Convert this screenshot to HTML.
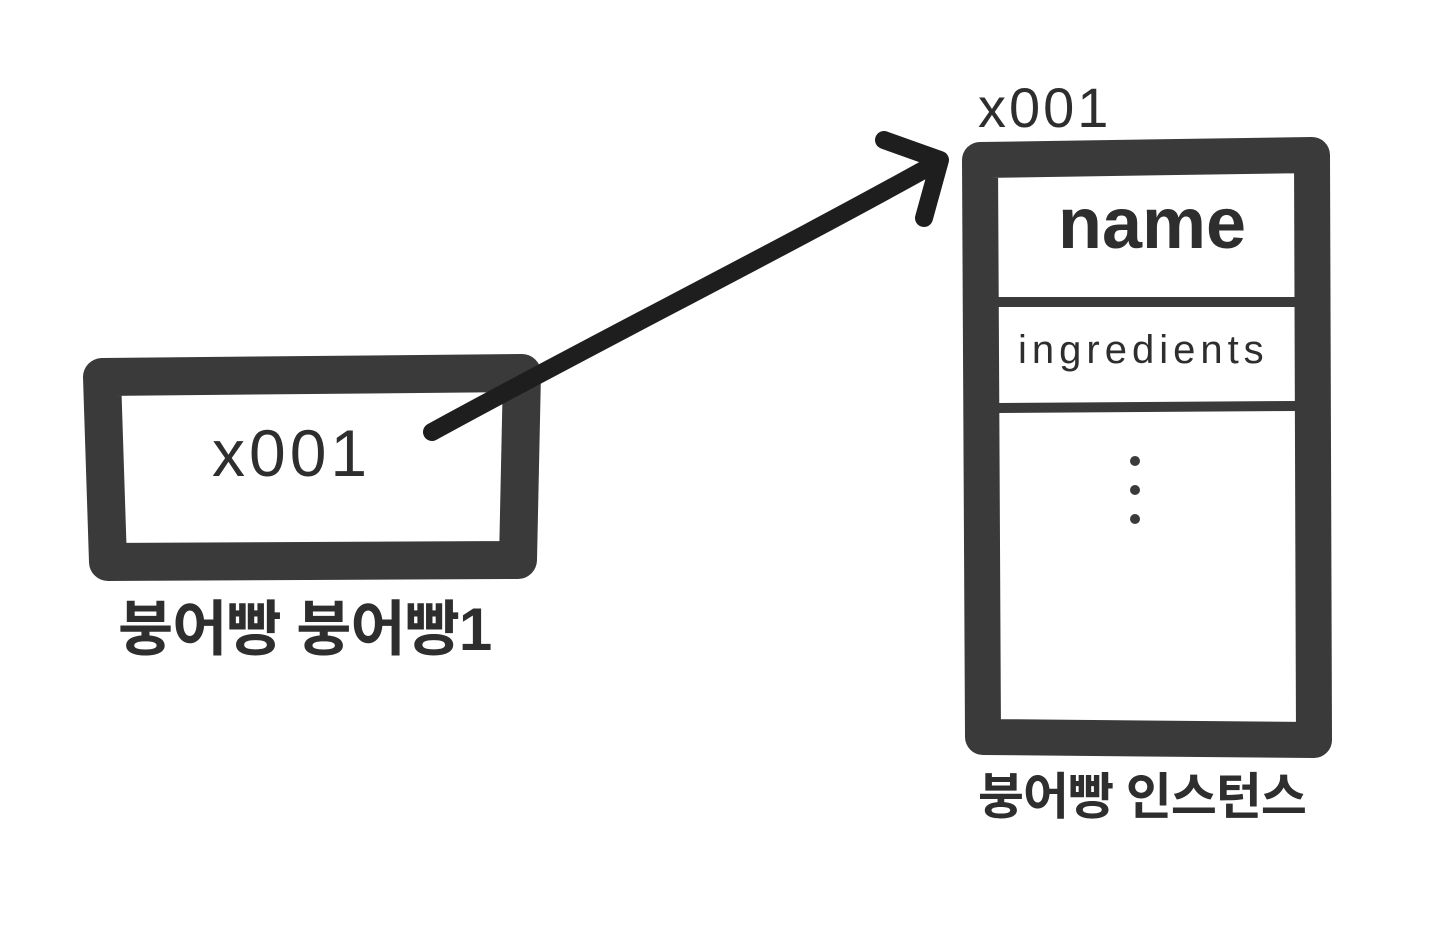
<!DOCTYPE html>
<html><head><meta charset="utf-8"><style>
html,body{margin:0;padding:0;background:#fff;}
body{width:1440px;height:937px;position:relative;overflow:hidden;}
.t{position:absolute;color:#2e2e2e;font-family:"Liberation Sans","Noto Sans CJK KR",sans-serif;white-space:nowrap;line-height:1;}
</style></head><body>
<svg width="1440" height="937" style="position:absolute;left:0;top:0">
  <g fill="none" stroke="#3a3a3a" stroke-linejoin="round" stroke-linecap="round">
    <path d="M102 377 L522 373 L518 560 L108 562 Z" stroke-width="38"/>
    <path d="M980 160 L1312 155 L1314 740 L983 737 Z" stroke-width="36"/>
    <line x1="998" y1="302" x2="1298" y2="302" stroke-width="10"/>
    <line x1="998" y1="408" x2="1298" y2="406" stroke-width="10"/>
    <path d="M432 432 C600 340 780 250 938 162" stroke="#1e1e1e" stroke-width="18"/>
    <path d="M884 140 L940 160 L924 218" stroke="#1e1e1e" stroke-width="18"/>
  </g>
  <g fill="#3a3a3a"><circle cx="1135" cy="461" r="5"/><circle cx="1135" cy="490" r="5"/><circle cx="1135" cy="519" r="5"/></g>
</svg>
<div class="t" style="left:212px;top:420px;font-size:66px;letter-spacing:4px">x001</div>
<div class="t" style="left:978px;top:80px;font-size:56px;letter-spacing:3px">x001</div>
<div class="t" style="left:1058px;top:188px;font-size:72px;font-weight:bold">name</div>
<div class="t" style="left:1018px;top:330px;font-size:40px;letter-spacing:5px">ingredients</div>
<div class="t" style="left:118px;top:600px;font-size:60px;font-weight:bold;letter-spacing:-1px">붕어빵 붕어빵1</div>
<div class="t" style="left:978px;top:772px;font-size:50px;font-weight:bold;letter-spacing:-1px">붕어빵 인스턴스</div>
</body></html>
